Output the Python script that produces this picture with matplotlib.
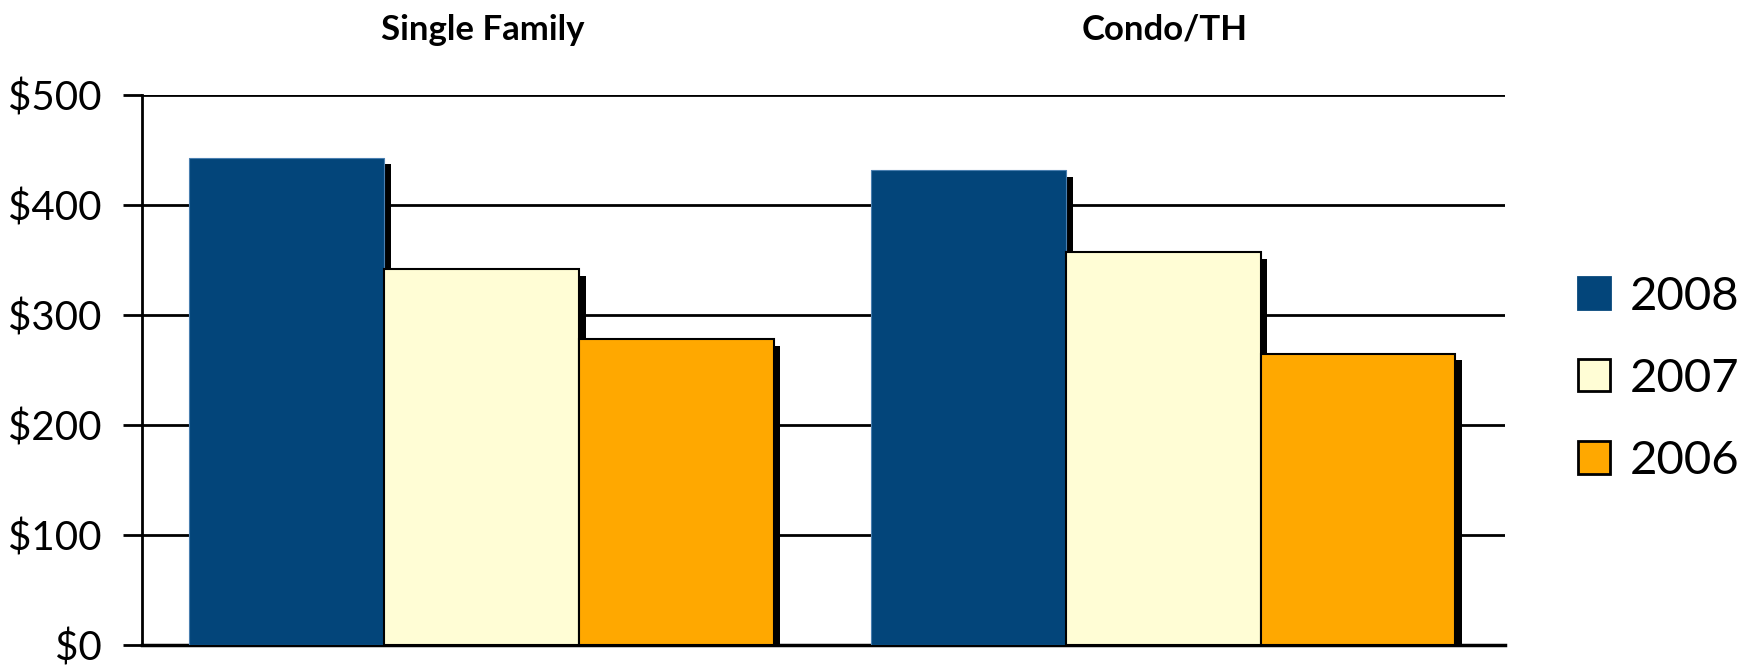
import numpy as np
import matplotlib
matplotlib.use("Agg")
import matplotlib.pyplot as plt
from matplotlib.patches import Patch

plt.rcParams['font.family'] = ['Lato', 'DejaVu Sans']

# median price per square foot, by property type and year
categories = ["Single Family", "Condo/TH"]
years = ["2008", "2007", "2006"]
price_2008 = [443, 432]
price_2007 = [342, 357]
price_2006 = [278, 265]
y_ticks = [0, 100, 200, 300, 400, 500]
y_tick_labels = ["$0", "$100", "$200", "$300", "$400", "$500"]

colors = ["#03457a", "#fffdd5", "#ffa800"]
edges = ["#4a7fb0", "black", "black"]

fig = plt.figure(figsize=(17.5, 6.68), dpi=100)
ax = fig.add_axes([0.081, 0.0344, 0.779, 0.8234])

x = np.arange(len(categories))
width = 0.2857
start = -0.430
shadow_dx = 0.0098
shadow_dy = 6.1

series = [price_2008, price_2007, price_2006]
for j, vals in enumerate(series):
    left = x + start + j * width
    vals = np.array(vals, dtype=float)
    # drop shadow behind each bar
    ax.bar(left + shadow_dx, vals - shadow_dy, width=width, align='edge',
           color='black', zorder=2)
    ax.bar(left, vals, width=width, align='edge', color=colors[j],
           edgecolor=edges[j], linewidth=1.5 if j else 0.8, zorder=3)

ax.set_xlim(-0.5, 1.5)
ax.set_ylim(0, 500)
ax.set_yticks(y_ticks)
ax.set_yticklabels(y_tick_labels, fontsize=29)
ax.yaxis.grid(True, color='black', linewidth=2)
ax.set_axisbelow(True)
ax.tick_params(axis='y', length=14, width=2, pad=15, direction='out')
ax.set_xticks([])
for side in ['top', 'right']:
    ax.spines[side].set_visible(False)
ax.spines['left'].set_linewidth(2)
ax.spines['bottom'].set_linewidth(2.5)

for i, name in enumerate(categories):
    ax.text(i, 1.10, name, transform=ax.get_xaxis_transform(), ha='center',
            va='baseline', fontsize=25, fontweight='bold')

handles = [Patch(facecolor=colors[j], edgecolor=edges[j] if j else colors[j],
                 linewidth=2, label=years[j]) for j in range(3)]
fig.legend(handles=handles, loc='center left', bbox_to_anchor=(0.8884, 0.433),
           frameon=False, fontsize=34, handlelength=0.68, handleheight=0.68,
           handletextpad=0.4, labelspacing=0.85, borderpad=0)

fig.savefig("out.png", dpi=100)
